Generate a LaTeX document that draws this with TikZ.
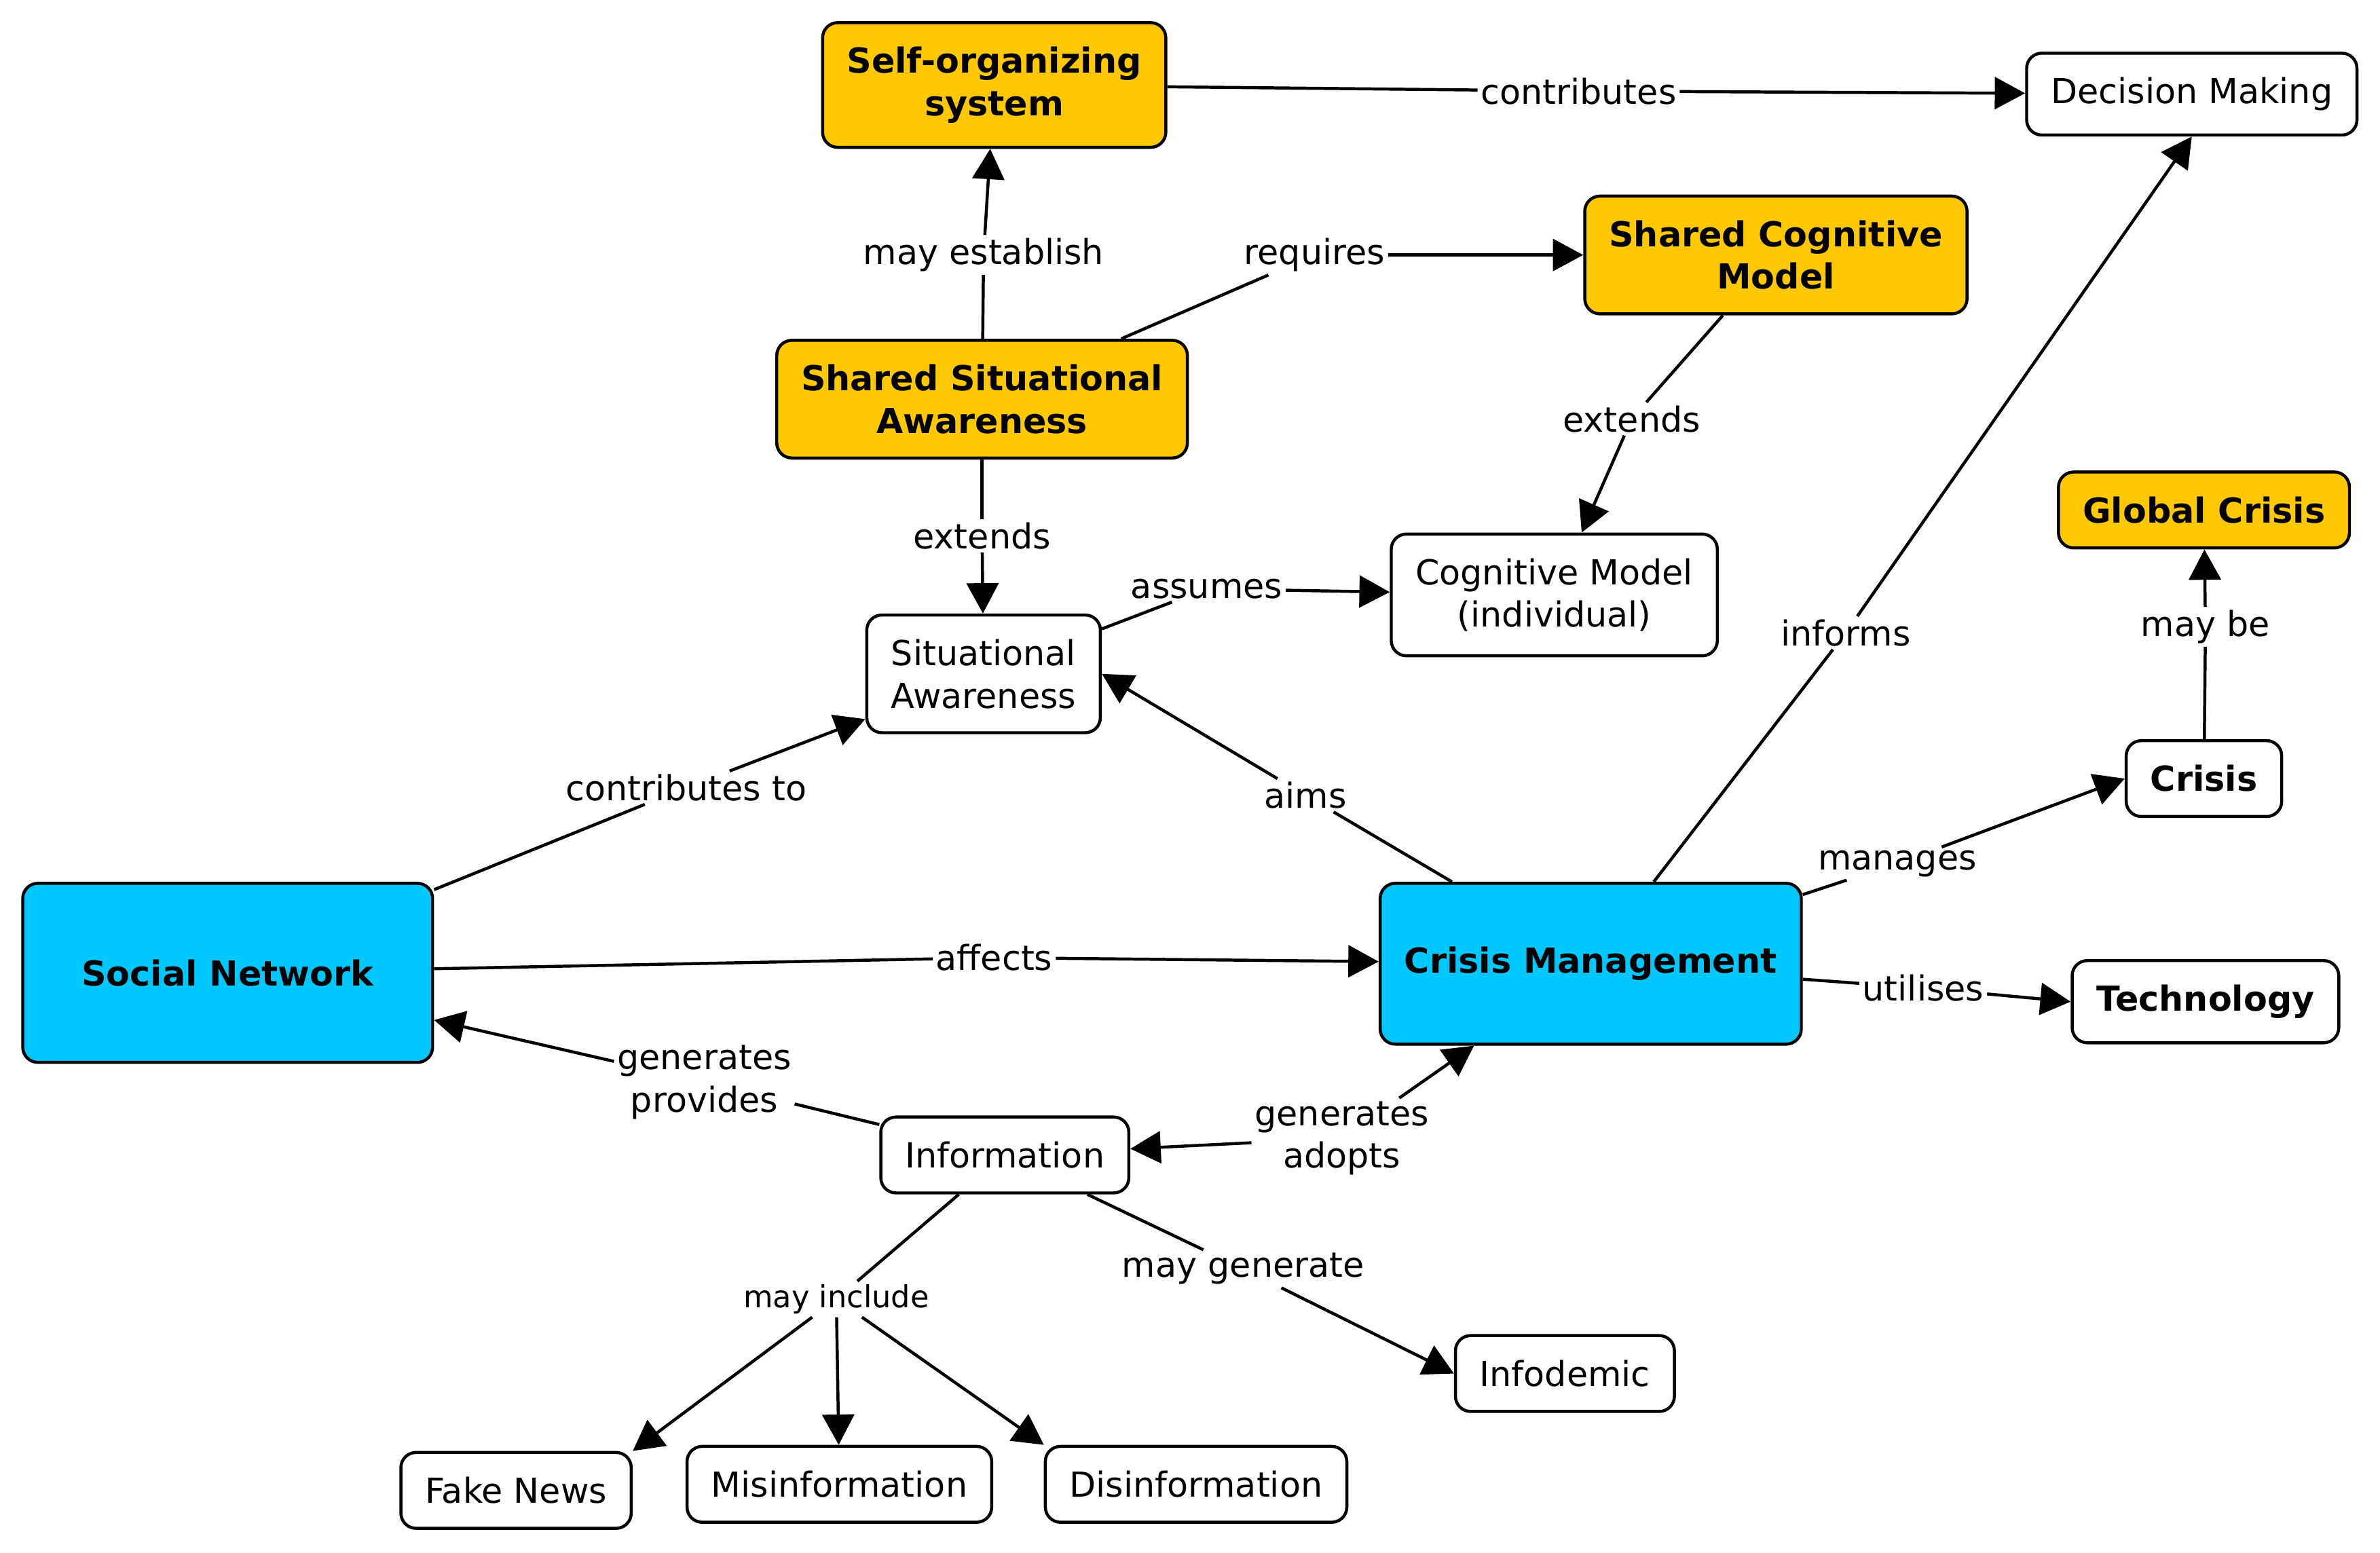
\documentclass[tikz,border=0pt]{standalone}
\usepackage{fontspec}
\setmainfont{DejaVu Sans}
\usetikzlibrary{arrows.meta}

\definecolor{keyorange}{RGB}{255,200,0}
\definecolor{corecyan}{RGB}{0,200,255}

\begin{document}
\begin{tikzpicture}[x=1pt,y=-1pt]
    \tikzstyle{concept}=[draw, line width=2pt, rounded corners=10pt, fill=white,
        inner xsep=16pt, inner ysep=16pt, minimum height=50pt, align=center,
        font=\fontsize{22.7}{28}\selectfont]
    \tikzstyle{boldconcept}=[concept, font=\fontsize{22.7}{28}\selectfont\bfseries]
    \tikzstyle{key}=[boldconcept, fill=keyorange]
    \tikzstyle{core}=[boldconcept, fill=corecyan]
    \tikzstyle{linkword}=[inner sep=2pt, align=center, font=\fontsize{22.7}{28}\selectfont]
    \tikzstyle{link}=[line width=2pt]
    \tikzstyle{arr}=[link, -{Triangle[length=20pt,width=21pt]}]
    \useasboundingbox (0,0) rectangle (1568,1023);

    % concepts
    \node[key] (sos) at (655,56) {Self-organizing\\system};
    \node[concept] (dm) at (1444,62) {Decision Making};
    \node[key] (scm) at (1170,168) {Shared Cognitive\\Model};
    \node[key] (ssa) at (647,263) {Shared Situational\\Awareness};
    \node[key] (gc) at (1452,336) {Global Crisis};
    \node[concept] (cm) at (1024,392) {Cognitive Model\\(individual)};
    \node[concept] (sa) at (648,444) {Situational\\Awareness};
    \node[boldconcept] (crisis) at (1452,513) {Crisis};
    \node[core, minimum width=270pt, minimum height=118pt] (sn) at (150,641) {Social Network};
    \node[core, minimum width=277pt, minimum height=106pt] (crm) at (1048,635) {Crisis Management};
    \node[boldconcept] (tech) at (1453,660) {Technology};
    \node[concept] (info) at (662,761) {Information};
    \node[concept] (infod) at (1031,905) {Infodemic};
    \node[concept] (fake) at (340,982) {Fake News};
    \node[concept] (mis) at (553,978) {Misinformation};
    \node[concept] (dis) at (788,978) {Disinformation};

    % linking words
    \node[linkword] (contrib) at (1040,60) {contributes};
    \node[linkword] (estab) at (648,168) {may establish};
    \node[linkword] (req) at (866,168) {requires};
    \node[linkword] (extA) at (1075,276) {extends};
    \node[linkword] (extB) at (647,353) {extends};
    \node[linkword] (assume) at (795,388) {assumes};
    \node[linkword] (inform) at (1216,417) {informs};
    \node[linkword] (maybe) at (1453,413) {may be};
    \node[linkword] (contribto) at (452,519) {contributes to};
    \node[linkword] (aims) at (860,524) {aims};
    \node[linkword] (manage) at (1250,569) {manages};
    \node[linkword] (affect) at (655,631) {affects};
    \node[linkword] (util) at (1267,651) {utilises};
    \node[linkword] (genprov) at (464,713) {generates\\provides};
    \node[linkword] (genadopt) at (884,750) {generates\\adopts};
    \node[linkword, font=\fontsize{20}{24}\selectfont] (include) at (551,856) {may include};
    \node[linkword] (maygen) at (819,836) {may generate};

    % connections
    \draw[link] (sos) -- (contrib);  \draw[arr] (contrib) -- (dm);
    \draw[link] (ssa) -- (estab);    \draw[arr] (estab) -- (sos);
    \draw[link] (ssa) -- (req);      \draw[arr] (req) -- (scm);
    \draw[link] (scm) -- (extA);     \draw[arr] (extA) -- (cm);
    \draw[link] (ssa) -- (extB);     \draw[arr] (extB) -- (sa);
    \draw[link] (sa) -- (assume);    \draw[arr] (assume) -- (cm);
    \draw[link] (crm) -- (inform);   \draw[arr] (inform) -- (dm.south);
    \draw[link] (crisis) -- (maybe); \draw[arr] (maybe) -- (gc);
    \draw[link] (sn) -- (contribto); \draw[arr] (contribto) -- (sa);
    \draw[link] (crm) -- (aims);     \draw[arr] (aims) -- (sa.east);
    \draw[link] (crm) -- (manage);   \draw[arr] (manage) -- (crisis.west);
    \draw[link] (sn) -- (affect);    \draw[arr] (affect) -- (crm);
    \draw[link] (crm) -- (util);     \draw[arr] (util) -- (tech.west);
    \draw[link] (info) -- (genprov); \draw[arr] (genprov) -- (sn);
    \draw[arr] (genadopt) -- (info); \draw[arr] (genadopt) -- (crm);
    \draw[link] (info) -- (include);
    \draw[arr] (include) -- (fake.north east);
    \draw[arr] (include) -- (mis);
    \draw[arr] (include) -- (dis.north west);
    \draw[link] (info) -- (maygen);  \draw[arr] (maygen) -- (infod.west);
\end{tikzpicture}
\end{document}
